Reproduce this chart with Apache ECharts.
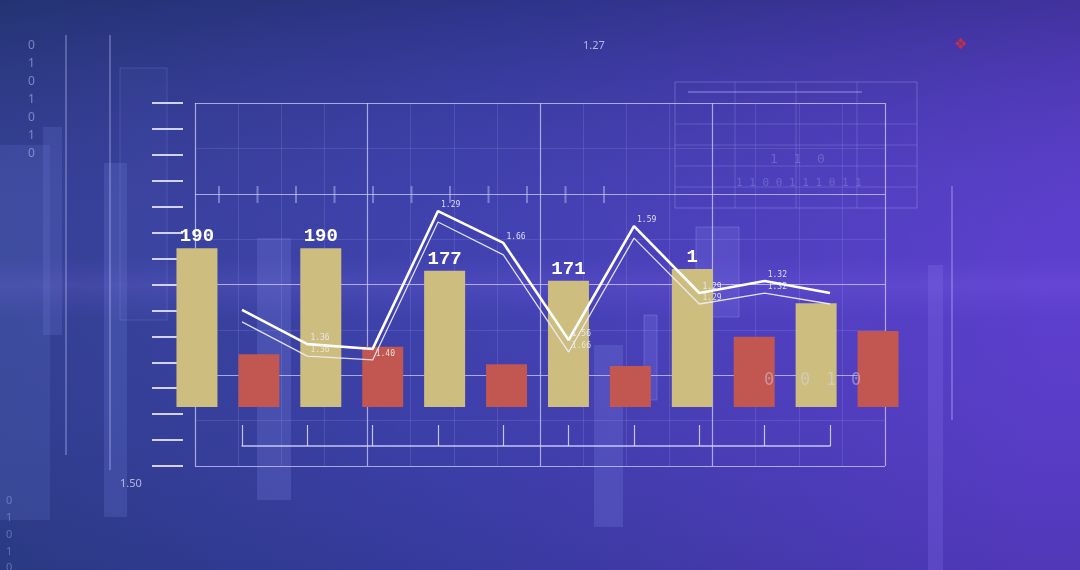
<!DOCTYPE html>
<html><head><meta charset="utf-8">
<script src="https://cdn.jsdelivr.net/npm/echarts@6/dist/echarts.min.js"></script>
<style>html,body{margin:0;padding:0;background:#2c3f86;}#c{width:1080px;height:570px;}</style>
</head><body><div id="c"></div>
<script>
// ---- data ----
const categories = ['A1','B1','A2','B2','A3','B3','A4','B4','A5','B5','A6','B6'];
const yellowValues = [190, null, 190, null, 163, null, 151, null, 165, null, 124, null];
const redValues = [null, 63, null, 72, null, 51, null, 49, null, 84, null, 91];
const yellowLabels = ['190', '', '190', '', '177', '', '171', '', '1', '', '', ''];
const linePoints = ['P1','P2','P3','P4','P5','P6','P7','P8','P9','P10'];
const upperLine = [39.7, 29.7, 28.3, 68.5, 59.2, 30.9, 64.1, 44.6, 48.1, 44.6];
const lowerLine = [36.2, 26.2, 25.1, 65.3, 55.7, 27.4, 60.6, 41.4, 44.6, 41.4];
const upperLabels = ['', '1.36', '', '1.29', '1.66', '1.56', '1.59', '1.29', '1.32', ''];
const lowerLabels = ['', '1.36', '1.40', '', '', '1.66', '', '1.29', '1.32', ''];

const chart = echarts.init(document.getElementById('c'), null, {renderer: 'canvas'});
const frameColor = 'rgba(205,205,255,0.75)';
const mono = '"DejaVu Sans Mono", "Liberation Mono", monospace';

function rect(x, y, w, h, fill, stroke) {
  return {type: 'rect', silent: true, shape: {x, y, width: w, height: h},
    style: {fill: fill || 'none', stroke: stroke || null, lineWidth: 1}, z: -5};
}
function vline(x, y1, y2, c, w) {
  return {type: 'line', silent: true, shape: {x1: x, y1, x2: x, y2}, style: {stroke: c, lineWidth: w || 1}, z: -4};
}
function hline(y, x1, x2, c, w) {
  return {type: 'line', silent: true, shape: {x1, y1: y, x2, y2: y}, style: {stroke: c, lineWidth: w || 1}, z: -4};
}
function txt(x, y, t, size, c, fam, z) {
  return {type: 'text', silent: true, x, y, style: {text: t, fill: c, fontSize: size, fontFamily: fam || '"Noto Sans", sans-serif'}, z: z || -3};
}

const deco = [
  {type: 'rect', silent: true, shape: {x: 0, y: 0, width: 1080, height: 570}, z: -20,
    style: {fill: new echarts.graphic.LinearGradient(0, 0, 1, 0.3, [
      {offset: 0, color: '#2b3e84'}, {offset: 0.45, color: '#3a3fa6'}, {offset: 1, color: '#5a3cc8'}])}},
  {type: 'rect', silent: true, shape: {x: 0, y: 0, width: 1080, height: 570}, z: -19,
    style: {fill: new echarts.graphic.LinearGradient(0, 0, 0, 1, [
      {offset: 0, color: 'rgba(20,30,80,0.35)'}, {offset: 0.45, color: 'rgba(120,90,255,0.10)'},
      {offset: 0.5, color: 'rgba(140,110,255,0.22)'}, {offset: 0.56, color: 'rgba(120,90,255,0.08)'},
      {offset: 1, color: 'rgba(20,30,90,0.15)'}])}},
  rect(0, 145, 50, 375, 'rgba(120,140,230,0.15)'),
  rect(43, 127, 19, 208, 'rgba(120,140,230,0.18)'),
  rect(104, 163, 23, 354, 'rgba(120,140,230,0.2)'),
  rect(120, 68, 47, 252, 'rgba(110,130,230,0.05)', 'rgba(150,160,240,0.22)'),
  rect(257, 238, 34, 262, 'rgba(140,150,240,0.2)'),
  rect(594, 345, 29, 182, 'rgba(140,150,240,0.2)'),
  rect(644, 315, 13, 85, 'rgba(150,150,250,0.18)', 'rgba(170,170,255,0.28)'),
  rect(696, 227, 43, 90, 'rgba(150,150,250,0.16)', 'rgba(170,170,255,0.28)'),
  rect(928, 265, 15, 305, 'rgba(150,130,250,0.2)'),
  vline(66, 35, 455, 'rgba(200,205,255,0.6)'),
  vline(110, 35, 470, 'rgba(200,205,255,0.6)'),
  vline(952, 186, 420, 'rgba(200,205,255,0.6)'),
  rect(675, 82, 242, 126, null, 'rgba(190,190,255,0.3)'),
  hline(124, 675, 917, 'rgba(190,190,255,0.22)'),
  hline(145, 675, 917, 'rgba(190,190,255,0.22)'),
  hline(166, 675, 917, 'rgba(190,190,255,0.22)'),
  hline(187, 675, 917, 'rgba(190,190,255,0.22)'),
  vline(735, 82, 208, 'rgba(190,190,255,0.22)'),
  vline(796, 82, 208, 'rgba(190,190,255,0.22)'),
  vline(857, 82, 208, 'rgba(190,190,255,0.22)'),
  hline(92, 688, 862, 'rgba(200,200,255,0.6)'),
  txt(583, 40, '1.27', 11, 'rgba(220,220,255,0.75)'),
  txt(120, 478, '1.50', 11, 'rgba(220,220,255,0.75)'),
  {type: 'text', silent: true, x: 954, y: 38, style: {text: '\u2756', fill: '#c0304a', fontSize: 15, fontFamily: '"DejaVu Sans"'}, z: -3},
  txt(28, 40, '0', 12, 'rgba(200,210,255,0.5)'),
  txt(28, 58, '1', 12, 'rgba(200,210,255,0.5)'),
  txt(28, 76, '0', 12, 'rgba(200,210,255,0.5)'),
  txt(28, 94, '1', 12, 'rgba(200,210,255,0.5)'),
  txt(28, 112, '0', 12, 'rgba(200,210,255,0.5)'),
  txt(28, 130, '1', 12, 'rgba(200,210,255,0.5)'),
  txt(28, 148, '0', 12, 'rgba(200,210,255,0.5)'),
  txt(6, 495, '0', 11, 'rgba(200,210,255,0.35)'),
  txt(6, 512, '1', 11, 'rgba(200,210,255,0.35)'),
  txt(6, 529, '0', 11, 'rgba(200,210,255,0.35)'),
  txt(6, 546, '1', 11, 'rgba(200,210,255,0.35)'),
  txt(6, 562, '0', 11, 'rgba(200,210,255,0.35)'),
  txt(764, 372, '0', 17, 'rgba(215,220,255,0.45)', '"DejaVu Sans Mono"', 20),
  txt(800, 372, '0', 17, 'rgba(215,220,255,0.45)', '"DejaVu Sans Mono"', 20),
  txt(826, 372, '1', 17, 'rgba(215,220,255,0.45)', '"DejaVu Sans Mono"', 20),
  txt(851, 372, '0', 17, 'rgba(215,220,255,0.45)', '"DejaVu Sans Mono"', 20),
  txt(770, 153, '1  1  0', 13, 'rgba(200,210,255,0.25)', '"DejaVu Sans Mono"'),
  txt(736, 178, '1 1 0 0 1 1 1 0 1 1', 11, 'rgba(200,210,255,0.25)', '"DejaVu Sans Mono"')
];
// short tick marks along the upper divider
for (let i = 0; i < 11; i++) {
  deco.push(vline(219 + i * 38.5, 186, 203, 'rgba(200,205,255,0.45)', 2));
}

const option = {
  animation: false,
  graphic: deco,
  grid: [
    {left: 195, right: 195, top: 103, bottom: 104},   // frame
    {left: 166, right: 171, top: 106, bottom: 163},   // bars
    {left: 242, right: 250, top: 103, bottom: 124}    // lines
  ],
  xAxis: [
    {gridIndex: 0, type: 'value', min: 0, max: 4, interval: 1,
      axisLine: {show: false}, axisTick: {show: false}, axisLabel: {show: false},
      splitLine: {show: true, lineStyle: {color: frameColor, width: 1.2}},
      minorTick: {show: false, splitNumber: 4},
      minorSplitLine: {show: true, lineStyle: {color: 'rgba(200,200,255,0.14)'}}},
    {gridIndex: 1, type: 'category', data: categories, show: false},
    {gridIndex: 2, type: 'category', data: linePoints, boundaryGap: false,
      axisLine: {show: true, lineStyle: {color: 'rgba(220,220,255,0.85)', width: 1.5}},
      axisTick: {show: true, inside: true, length: 21, lineStyle: {color: 'rgba(220,220,255,0.85)', width: 1.2}},
      axisLabel: {show: false}, splitLine: {show: false}}
  ],
  yAxis: [
    {gridIndex: 0, type: 'value', min: 0, max: 4, interval: 1,
      axisLine: {show: false}, axisTick: {show: false}, axisLabel: {show: false},
      splitLine: {show: true, lineStyle: {color: frameColor, width: 1.2}},
      minorTick: {show: false, splitNumber: 2},
      minorSplitLine: {show: true, lineStyle: {color: 'rgba(200,200,255,0.14)'}}},
    {gridIndex: 0, type: 'value', min: 0, max: 14, interval: 1, position: 'left', offset: 12,
      axisLine: {show: false}, axisLabel: {show: false}, splitLine: {show: false},
      axisTick: {show: true, length: 31, lineStyle: {color: 'rgba(225,225,255,0.9)', width: 2}}},
    {gridIndex: 1, type: 'value', min: 0, max: 360, show: false},
    {gridIndex: 2, type: 'value', min: 0, max: 100, show: false}
  ],
  series: [
    {type: 'bar', xAxisIndex: 1, yAxisIndex: 2, data: yellowValues, barWidth: 41, barGap: '-100%',
      itemStyle: {color: '#cdbd7e'}, z: 3,
      label: {show: true, position: 'top', distance: 2, color: '#ffffff', fontFamily: '"Liberation Mono", monospace',
        fontWeight: 'bold', fontSize: 19, formatter: p => yellowLabels[p.dataIndex] || ''}},
    {type: 'bar', xAxisIndex: 1, yAxisIndex: 2, data: redValues, barWidth: 41, barGap: '-100%',
      itemStyle: {color: '#c25650'}, z: 3},
    {type: 'line', xAxisIndex: 2, yAxisIndex: 3, data: upperLine, symbol: 'circle', symbolSize: 0.1,
      showSymbol: true, z: 5, itemStyle: {color: 'rgba(0,0,0,0)'},
      lineStyle: {color: '#ffffff', width: 2.6},
      label: {show: true, position: 'right', distance: 3, offset: [0, -6], color: 'rgba(235,235,255,0.9)', fontFamily: mono, fontSize: 8,
        formatter: p => upperLabels[p.dataIndex] || ''}},
    {type: 'line', xAxisIndex: 2, yAxisIndex: 3, data: lowerLine, symbol: 'circle', symbolSize: 0.1,
      showSymbol: true, z: 5, itemStyle: {color: 'rgba(0,0,0,0)'},
      lineStyle: {color: 'rgba(240,240,255,0.9)', width: 1.3},
      label: {show: true, position: 'right', distance: 3, offset: [0, -6], color: 'rgba(235,235,225,0.9)', fontFamily: mono, fontSize: 8,
        formatter: p => lowerLabels[p.dataIndex] || ''}}
  ]
};
chart.setOption(option);
</script></body></html>
